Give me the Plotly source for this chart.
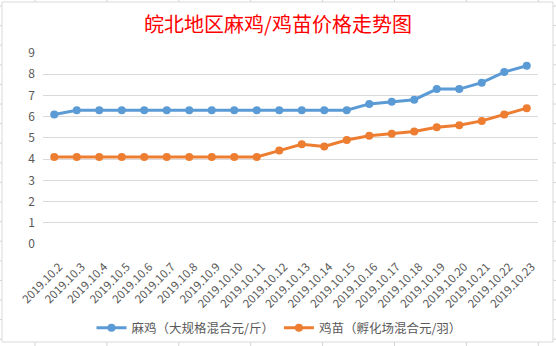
import plotly.graph_objects as go

categories = ["2019.10.2", "2019.10.3", "2019.10.4", "2019.10.5", "2019.10.6", "2019.10.7",
              "2019.10.8", "2019.10.9", "2019.10.10", "2019.10.11", "2019.10.12", "2019.10.13",
              "2019.10.14", "2019.10.15", "2019.10.16", "2019.10.17", "2019.10.18", "2019.10.19",
              "2019.10.20", "2019.10.21", "2019.10.22", "2019.10.23"]
maji = [6.1, 6.3, 6.3, 6.3, 6.3, 6.3, 6.3, 6.3, 6.3, 6.3, 6.3, 6.3,
        6.3, 6.3, 6.6, 6.7, 6.8, 7.3, 7.3, 7.6, 8.1, 8.4]
jimiao = [4.1, 4.1, 4.1, 4.1, 4.1, 4.1, 4.1, 4.1, 4.1, 4.1, 4.4, 4.7,
          4.6, 4.9, 5.1, 5.2, 5.3, 5.5, 5.6, 5.8, 6.1, 6.4]
series_names = ["麻鸡（大规格混合元/斤）", "鸡苗（孵化场混合元/羽）"]
y_ticks = list(range(0, 10))

W, H = 556, 346
L, R, T, B = 43, 18, 53, 102
PW, PH = W - L - R, H - T - B
FONT = "Noto Sans CJK SC, Noto Sans, sans-serif"
BLUE = "#5B9BD5"
ORANGE = "#ED7D31"

fig = go.Figure()
for name, vals, col in [(series_names[0], maji, BLUE), (series_names[1], jimiao, ORANGE)]:
    fig.add_trace(go.Scatter(
        x=list(range(len(categories))), y=vals, name=name, mode="lines+markers",
        line=dict(color=col, width=3),
        marker=dict(color=col, size=8),
    ))


def pxline(x0, y0, x1, y1, color="#D4D4D4", width=1):
    # decorative lines given in page pixels (spreadsheet cells / chart border)
    return dict(type="line", xref="x domain", yref="y domain",
                x0=(x0 - L) / PW, x1=(x1 - L) / PW,
                y0=(H - B - y0) / PH, y1=(H - B - y1) / PH,
                line=dict(color=color, width=width), layer="below")


shapes = []
for i in range(9):
    xx = 35 + i * 71.9
    if xx < W - 4:
        shapes.append(pxline(xx, 0, xx, 2))
        shapes.append(pxline(xx, 342, xx, 346))
for j in range(18):
    yy = 6 + j * 19.6
    if 4 < yy < 342:
        shapes.append(pxline(0, yy, 2, yy))
        shapes.append(pxline(553, yy, 556, yy))
border = "#D9D9D9"
shapes.append(pxline(2, 2, 553, 2, color=border))
shapes.append(pxline(2, 342, 553, 342, color=border))
shapes.append(pxline(2, 2, 2, 342, color=border))
shapes.append(pxline(553, 2, 553, 342, color=border))

fig.update_layout(
    width=W, height=H,
    margin=dict(l=L, r=R, t=T, b=B, autoexpand=False),
    paper_bgcolor="white", plot_bgcolor="white",
    font=dict(family=FONT, color="#595959", size=12),
    title=dict(text="皖北地区麻鸡/鸡苗价格走势图", x=278 / W, xanchor="center",
               xref="container", yref="container",
               y=1 - 25 / H, yanchor="middle",
               font=dict(family=FONT, size=20, color="#FF0000")),
    showlegend=True,
    legend=dict(orientation="h", xref="container", yref="container",
                x=279 / W, xanchor="center",
                y=1 - 328 / H, yanchor="middle",
                font=dict(size=12.5, color="#595959"),
                bgcolor="rgba(0,0,0,0)", itemwidth=30),
    shapes=shapes,
)
fig.update_xaxes(
    range=[-0.5, len(categories) - 0.5], automargin=False,
    tickmode="array", tickvals=list(range(len(categories))), ticktext=categories,
    tickangle=-45, tickfont=dict(size=11.5, color="#595959"),
    ticklabelstandoff=13, ticklabelshift=5,
    showgrid=False, zeroline=False, showline=False, ticks="",
)
fig.update_yaxes(
    range=[0, 9], tickmode="array", tickvals=y_ticks, automargin=False,
    tickfont=dict(size=12, color="#595959"),
    showgrid=True, gridcolor="#D9D9D9", gridwidth=1, zeroline=False,
    showline=False, ticks="", ticklabelstandoff=7,
)
fig.write_html("out.html")
